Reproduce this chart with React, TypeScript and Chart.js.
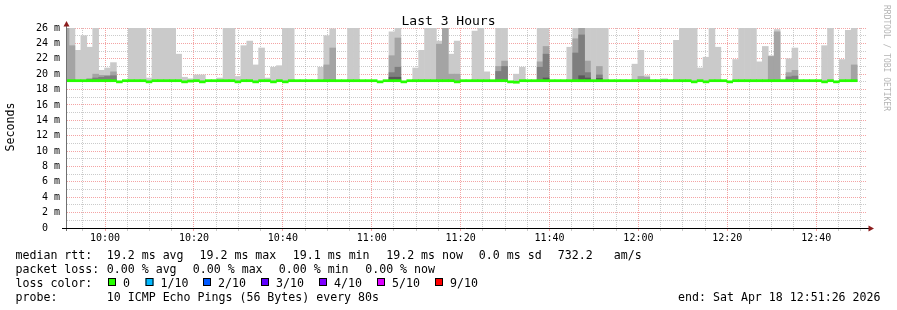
import React, { useEffect, useRef } from 'react';
import { Chart, registerables } from 'chart.js';

Chart.register(...registerables);

// ---------- data ----------
// x axis: seconds after the graph start (Sat Apr 18 09:51:26 2026), 3 hours wide
const graphSpanSec = 10800;
const stepSec = 80;
const firstBinStartSec = -53;
const firstMinorTickSec = 214; // 09:55:00
const minorTickSec = 300;
const firstMajorTickSec = 514; // 10:00:00
const majorTickSec = 1200;
const timeLabels = ['10:00', '10:20', '10:40', '11:00', '11:20', '11:40', '12:00', '12:20', '12:40'];

const yMin = 0;
const yMax = 26;
const yTickValues = [0, 1, 2, 3, 4, 5, 6, 7, 8, 9, 10, 11, 12, 13, 14, 15, 16, 17, 18, 19, 20, 21, 22, 23, 24, 25, 26];

const lowestPing = 19.12;
const _ = null;

// median rtt per 80 s step (ms)
const medianRtt = [
  19.15, 19.15, 19.15, 19.15, 19.15, 19.15, 19.15, 19.15, 19.15, 19.0,
  19.15, 19.15, 19.15, 19.15, 19.0, 19.15, 19.15, 19.15, 19.15, 19.15,
  19.0, 19.1, 19.15, 19.0, 19.15, 19.15, 19.15, 19.15, 19.15, 19.0,
  19.15, 19.15, 19.0, 19.15, 19.15, 19.0, 19.15, 19.0, 19.15, 19.15,
  19.15, 19.15, 19.15, 19.15, 19.15, 19.15, 19.15, 19.15, 19.15, 19.15,
  19.15, 19.15, 19.15, 19.0, 19.15, 19.15, 19.15, 19.0, 19.15, 19.15,
  19.15, 19.15, 19.15, 19.15, 19.15, 19.15, 19.0, 19.15, 19.15, 19.15,
  19.15, 19.15, 19.15, 19.15, 19.15, 19.0, 18.95, 19.15, 19.15, 19.15,
  19.15, 19.15, 19.15, 19.15, 19.15, 19.15, 19.15, 19.15, 19.15, 19.15,
  19.15, 19.15, 19.15, 19.15, 19.15, 19.15, 19.15, 19.15, 19.15, 19.15,
  19.15, 19.15, 19.15, 19.15, 19.15, 19.15, 19.0, 19.15, 19.0, 19.15,
  19.15, 19.15, 19.0, 19.15, 19.15, 19.15, 19.15, 19.15, 19.15, 19.15,
  19.15, 19.15, 19.15, 19.15, 19.15, 19.15, 19.15, 19.15, 19.0, 19.15,
  19.0, 19.15, 19.15, 19.15,
];

// smoke: upper ping of each pair (1/10, 2/9, 3/8, 4/7), ms
const smokePair1 = [
  27, 27, 23.1, 25.0, 23.5, 27, 20.5, 20.8, 21.5, _,
  _, 27, 27, 27, 19.5, 27, 27, 27, 27, 22.6,
  19.6, 19.4, 19.9, 19.9, _, _, 19.5, 27, 27, 19.7,
  23.7, 24.3, 21.2, 23.4, 19.5, 20.9, 21.1, 27, 27, _,
  _, _, _, 20.9, 25.0, 25.9, _, _, 27, 27,
  _, _, _, _, _, 25.5, 27, _, _, 20.8,
  23.1, 27, 27, 24.3, 27, 22.6, 24.3, _, _, 25.6,
  27, 20.3, _, 27, 27, _, 20.0, 20.9, _, _,
  27, 27, _, _, _, 23.5, 27, 27, 27, 27,
  27, 27, _, _, _, _, 21.3, 23.1, 19.8, _,
  _, 19.4, _, 24.4, 27, 27, 27, 20.8, 22.2, 27,
  23.5, _, _, 21.9, 27, 27, 27, 21.6, 23.6, 22.4,
  25.8, _, 22.0, 23.4, _, _, _, _, 23.7, 27,
  _, 21.9, 25.7, 27,
];

const smokePair2 = [
  27, 23.7, _, _, 19.4, 20.0, 19.85, 19.85, 20.3, _,
  _, _, _, _, _, _, _, _, _, _,
  _, _, _, _, _, _, _, _, _, _,
  _, _, _, _, _, _, _, _, _, _,
  _, _, _, _, 21.2, 23.4, _, _, _, _,
  _, _, _, _, _, 22.4, 24.7, _, _, _,
  _, _, _, 23.9, 27, 20.0, 20.0, _, _, _,
  _, _, _, 21.0, 21.7, _, _, _, _, _,
  21.6, 23.6, _, _, _, _, 24.6, 27, 21.7, _,
  21.0, _, _, _, _, _, _, 19.7, 19.6, _,
  _, _, _, _, _, _, _, _, _, _,
  _, _, _, _, _, _, _, _, _, 22.3,
  25.5, _, 20.2, 20.5, _, _, _, _, _, _,
  _, _, _, 21.2,
];

const smokePair3 = [
  _, _, _, _, 19.35, 19.5, 19.6, 19.7, 19.8, _,
  _, _, _, _, _, _, _, _, _, _,
  _, _, _, _, _, _, _, _, _, _,
  _, _, _, _, _, _, _, _, _, _,
  _, _, _, _, _, _, _, _, _, _,
  _, _, _, _, _, 20.2, 20.9, _, _, _,
  _, _, _, _, _, _, _, _, _, _,
  _, _, _, 20.35, 21.0, _, _, _, _, _,
  20.9, 22.6, _, _, _, _, 22.75, 25.1, 20.2, _,
  19.9, _, _, _, _, _, _, _, _, _,
  _, _, _, _, _, _, _, _, _, _,
  _, _, _, _, _, _, _, _, _, _,
  _, _, 19.65, 19.75, _, _, _, _, _, _,
  _, _, _, _,
];

const smokePair4 = [
  _, _, _, _, _, _, _, _, _, _,
  _, _, _, _, _, _, _, _, _, _,
  _, _, _, _, _, _, _, _, _, _,
  _, _, _, _, _, _, _, _, _, _,
  _, _, _, _, _, _, _, _, _, _,
  _, _, _, _, _, 19.6, 19.6, _, _, _,
  _, _, _, _, _, _, _, _, _, _,
  _, _, _, _, _, _, _, _, _, _,
  _, 19.5, _, _, _, _, _, 19.8, 19.5, _,
  19.45, _, _, _, _, _, _, _, _, _,
  _, _, _, _, _, _, _, _, _, _,
  _, _, _, _, _, _, _, _, _, _,
  _, _, _, _, _, _, _, _, _, _,
  _, _, _, _,
];

const chartTitle = 'Last 3 Hours';
const yAxisTitle = 'Seconds';
const watermark = 'RRDTOOL / TOBI OETIKER';
const rttStats = ['19.2 ms avg', '19.2 ms max', '19.1 ms min', '19.2 ms now', '0.0 ms sd', '732.2', 'am/s'];
const lossStats = ['0.00 % avg', '0.00 % max', '0.00 % min', '0.00 % now'];
const lossLabels = ['0', '1/10', '2/10', '3/10', '4/10', '5/10', '9/10'];
const lossColors = ['#26ff00', '#00b8ff', '#0059ff', '#5e00ff', '#7e00ff', '#dd00ff', '#ff0000'];
const probeText = '10 ICMP Echo Pings (56 Bytes) every 80s';
const endText = 'end: Sat Apr 18 12:51:26 2026';

// ---------- helpers ----------
const binCenter = (i: number) => firstBinStartSec + stepSec * i + stepSec / 2;
const smokeData = (tops: (number | null)[]) =>
  tops.flatMap((v, i) => (v == null ? [] : [{ x: binCenter(i), y: [lowestPing, v] }]));
const BAND = 0.135; // half thickness of the median band (≈1px)
const medianData = medianRtt.map((m, i) => ({ x: binCenter(i), y: [m - BAND, m + BAND] }));

const xTicks: number[] = [];
for (let t = firstMinorTickSec; t <= graphSpanSec; t += minorTickSec) xTicks.push(t);
const isMajorX = (v: number) => (v - firstMajorTickSec) % majorTickSec === 0;

const RED = 'rgba(235, 90, 90, 0.55)';
const GRAY = 'rgba(140, 140, 140, 0.45)';
const MONO = 'DejaVu Sans Mono';

const decor = {
  id: 'decor',
  afterDraw(chart: any) {
    const { ctx, chartArea: a } = chart;
    ctx.save();
    // axes
    ctx.lineWidth = 1;
    ctx.strokeStyle = '#707070';
    ctx.beginPath();
    ctx.moveTo(a.left - 0.5, a.bottom + 3);
    ctx.lineTo(a.left - 0.5, a.top - 3);
    ctx.stroke();
    ctx.strokeStyle = '#000';
    ctx.beginPath();
    ctx.moveTo(a.left - 5, a.bottom + 0.5);
    ctx.lineTo(a.right + 2, a.bottom + 0.5);
    ctx.stroke();
    ctx.fillStyle = '#8c1d1d';
    ctx.beginPath();
    ctx.moveTo(a.left - 0.5, a.top - 7);
    ctx.lineTo(a.left - 3.5, a.top - 1.5);
    ctx.lineTo(a.left + 2.5, a.top - 1.5);
    ctx.closePath();
    ctx.fill();
    ctx.beginPath();
    ctx.moveTo(a.right + 7, a.bottom + 0.5);
    ctx.lineTo(a.right + 1.5, a.bottom - 2.5);
    ctx.lineTo(a.right + 1.5, a.bottom + 3.5);
    ctx.closePath();
    ctx.fill();

    // title
    ctx.fillStyle = '#000';
    ctx.font = `13px ${MONO}`;
    ctx.textAlign = 'center';
    ctx.textBaseline = 'alphabetic';
    ctx.fillText(chartTitle, chart.width / 2, 24.5);

    // y axis title
    ctx.save();
    ctx.font = `11.6px ${MONO}`;
    ctx.translate(14, 127);
    ctx.rotate(-Math.PI / 2);
    ctx.textAlign = 'center';
    ctx.fillText(yAxisTitle, 0, 0);
    ctx.restore();

    // watermark
    ctx.save();
    ctx.font = `8px ${MONO}`;
    ctx.fillStyle = '#b4b4b4';
    ctx.translate(884, 5);
    ctx.rotate(Math.PI / 2);
    ctx.textAlign = 'left';
    ctx.fillText(watermark, 0, 0);
    ctx.restore();

    // legend
    ctx.font = `11.6px ${MONO}`;
    ctx.textAlign = 'left';
    ctx.fillStyle = '#000';
    const rows = [259, 273, 287, 301];
    ctx.fillText('median rtt:', 15.5, rows[0]);
    const rttX = [106.8, 199.5, 292.8, 386.2, 478.8, 557.8, 613.8];
    rttStats.forEach((s, i) => ctx.fillText(s, rttX[i], rows[0]));
    ctx.fillText('packet loss:', 15.5, rows[1]);
    const lossX = [106.8, 192.8, 278.8, 365.2];
    lossStats.forEach((s, i) => ctx.fillText(s, lossX[i], rows[1]));
    ctx.fillText('loss color:', 15.5, rows[2]);
    const boxX = [108, 145.5, 203, 261, 319, 377, 435];
    lossLabels.forEach((s, i) => {
      ctx.fillStyle = lossColors[i];
      ctx.fillRect(boxX[i], 278, 8, 8);
      ctx.strokeStyle = '#000';
      ctx.lineWidth = 1;
      ctx.strokeRect(boxX[i] + 0.5, 278.5, 7, 7);
      ctx.fillStyle = '#000';
      ctx.fillText(s, boxX[i] + 15, rows[2]);
    });
    ctx.fillText('probe:', 15.5, rows[3]);
    ctx.fillText(probeText, 106.8, rows[3]);
    ctx.textAlign = 'right';
    ctx.fillText(endText, 880.5, rows[3]);
    ctx.restore();
  },
};

export default function App() {
  const ref = useRef<HTMLCanvasElement>(null);
  useEffect(() => {
    document.body.style.margin = '0';
    const common = { clip: 0, borderWidth: 0, grouped: false, barPercentage: 1, categoryPercentage: 1 };
    const chart = new Chart(ref.current as HTMLCanvasElement, {
      type: 'bar',
      data: {
        datasets: [
          { ...common, label: 'pair1', data: smokeData(smokePair1), backgroundColor: '#cacaca', order: 5 },
          { ...common, label: 'pair2', data: smokeData(smokePair2), backgroundColor: '#a4a4a4', order: 4 },
          { ...common, label: 'pair3', data: smokeData(smokePair3), backgroundColor: '#7e7e7e', order: 3 },
          { ...common, label: 'pair4', data: smokeData(smokePair4), backgroundColor: '#585858', order: 2 },
          { ...common, label: 'median', data: medianData, backgroundColor: '#26ff00', order: 1 },
        ] as any,
      },
      options: {
        responsive: false,
        animation: false,
        layout: { padding: { left: 0, right: 30, top: 28, bottom: 0 } },
        plugins: { legend: { display: false }, tooltip: { enabled: false }, title: { display: false } },
        scales: {
          x: {
            type: 'linear',
            min: 0,
            max: graphSpanSec,
            offset: false,
            z: 1,
            afterBuildTicks: (s: any) => {
              s.ticks = xTicks.map((v) => ({ value: v }));
            },
            afterFit: (s: any) => {
              s.height = 82;
            },
            grid: {
              offset: false,
              drawTicks: true,
              tickLength: 3,
              lineWidth: 1,
              color: (c: any) => (isMajorX(c.tick.value) ? RED : GRAY),
              tickColor: (c: any) => (isMajorX(c.tick.value) ? RED : GRAY),
            },
            border: { display: false, dash: [1, 1] },
            ticks: {
              autoSkip: false,
              maxRotation: 0,
              minRotation: 0,
              padding: 1.5,
              color: '#000',
              font: { family: MONO, size: 10 },
              callback: (v: any) => (isMajorX(v) ? timeLabels[(v - firstMajorTickSec) / majorTickSec] : ''),
            },
          },
          y: {
            type: 'linear',
            min: yMin,
            max: yMax,
            z: 1,
            afterBuildTicks: (s: any) => {
              s.ticks = yTickValues.map((v) => ({ value: v }));
            },
            afterFit: (s: any) => {
              s.width = 67;
            },
            grid: {
              drawTicks: false,
              lineWidth: 1,
              color: (c: any) => (c.tick.value % 2 === 0 ? RED : GRAY),
            },
            border: { display: false, dash: [1, 1] },
            ticks: {
              autoSkip: false,
              padding: 7,
              color: '#000',
              font: { family: MONO, size: 10 },
              callback: (v: any) => (v % 2 !== 0 ? '' : v === 0 ? '0  ' : `${v} m`),
            },
          },
        },
      } as any,
      plugins: [decor],
    });
    return () => chart.destroy();
  }, []);
  return <canvas ref={ref} width={897} height={310} style={{ display: 'block', width: 897, height: 310 }} />;
}
